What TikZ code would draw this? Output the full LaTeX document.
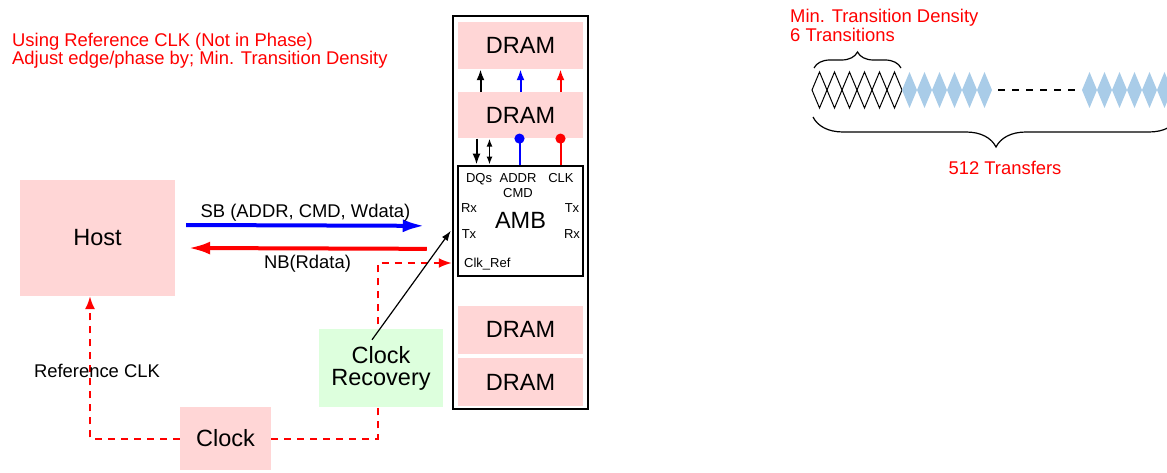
\documentclass[tikz,border=0pt]{standalone}
\usepackage{fontspec}
\setmainfont{Liberation Sans}
\usetikzlibrary{arrows.meta,calc,positioning,decorations.pathreplacing}
\definecolor{boxpink}{RGB}{255,214,214}
\definecolor{boxgreen}{RGB}{221,255,221}
\definecolor{bitblue}{RGB}{169,204,232}

\begin{document}
\begin{tikzpicture}[x=1pt,y=-1pt,
	pinknode/.style={rectangle, fill=boxpink, inner sep=0pt, align=center, font=\fontsize{23.5}{22}\selectfont},
	greennode/.style={rectangle, fill=boxgreen, inner sep=0pt, align=center, font=\fontsize{23.5}{22}\selectfont},
	ambnode/.style={rectangle, draw=black, line width=2.5pt, fill=white, inner sep=0pt, font=\fontsize{23.5}{22}\selectfont},
	smalltext/.style={inner sep=0pt, font=\fontsize{13}{14}\selectfont},
	labeltext/.style={inner sep=0pt, font=\fontsize{18.4}{18.4}\selectfont},
	redtext/.style={labeltext, text=red},
	clkline/.style={red, line width=2pt, dash pattern=on 7pt off 6pt, -{Latex[length=13pt,width=10pt]}},
	busarrow/.style={line width=4pt, -{Latex[length=22pt,width=13pt]}},
	pinarrow/.style={line width=2pt, -{Latex[length=11pt,width=8pt]}},
	node distance=23pt
	]
	\useasboundingbox (0,0) rectangle (1167,473);
	%Notes
	\node[redtext, anchor=base west](NoteA) at (12,47) {Using Reference CLK (Not in Phase)};
	\node[redtext, anchor=base west](NoteB) at (12,65) {Adjust edge/phase by; Min. Transition Density};
	%Nodes
	\node[draw=black, line width=2.5pt, minimum width=135pt, minimum height=393pt](Module) at (520.5,212.5) {};
	\node[pinknode, minimum width=125pt, minimum height=47pt](DramA) at (520.5,45.5) {DRAM};
	\node[pinknode, minimum width=125pt, minimum height=46pt](DramB)[below=of DramA] {DRAM};
	\node[ambnode, minimum width=125pt, minimum height=110pt](AMB)[below=26pt of DramB] {AMB};
	\node[pinknode, minimum width=125pt, minimum height=48pt](DramC)[below=28.5pt of AMB] {DRAM};
	\node[pinknode, minimum width=125pt, minimum height=48pt](DramD)[below=4pt of DramC] {DRAM};
	\node[pinknode, minimum width=155pt, minimum height=116pt](Host) at (97.5,238) {Host};
	\node[pinknode, minimum width=91pt, minimum height=63pt](Clock) at (225.5,438.5) {Clock};
	\coordinate (Tap) at (378,263);
	% AMB pins
	\node[smalltext, anchor=base](DQs) at (479,183) {DQs};
	\node[smalltext, anchor=base](Addr) at (518,183) {ADDR};
	\node[smalltext, anchor=base](Cmd) at (518,197) {CMD};
	\node[smalltext, anchor=base](Clk) at (561,183) {CLK};
	\node[smalltext, anchor=base](RxL) at (469,212) {Rx};
	\node[smalltext, anchor=base](TxL) at (469,238) {Tx};
	\node[smalltext, anchor=base](TxR) at (572,212) {Tx};
	\node[smalltext, anchor=base](RxR) at (572,238) {Rx};
	\node[smalltext, anchor=base west](ClkRef) at (464,267) {Clk\_Ref};
	%Lines
	\foreach \dx/\col in {-40/black,0/blue,40/red}
		\draw[pinarrow, \col] ([xshift=\dx pt]DramB.north) -- ([xshift=\dx pt]DramA.south);
	\draw[pinarrow] ([xshift=-44pt]DramB.south) -- ([xshift=-44pt]AMB.north);
	\draw[line width=1.8pt, {Latex[length=8pt,width=6pt]}-{Latex[length=8pt,width=6pt]}] ([xshift=-31pt]DramB.south) -- ([xshift=-31pt]AMB.north);
	\draw[blue, line width=2pt, {Circle[length=10pt]}-, shorten <=-5pt] ([xshift=-1pt]DramB.south) -- ([xshift=-1pt]AMB.north);
	\draw[red, line width=2pt, {Circle[length=10pt]}-, shorten <=-5pt] ([xshift=40pt]DramB.south) -- ([xshift=40pt]AMB.north);
	\draw[busarrow, blue] ($(Host.east)+(11,-13)$) -- ($(AMB.west)+(-32,5)$)
		node[midway, anchor=base, yshift=8pt, labeltext, text=black](SB){SB (ADDR, CMD, Wdata)};
	\draw[busarrow, red] ($(AMB.west)+(-30,28)$) -- ($(Host.east)+(13,10)$)
		node[midway, anchor=base, yshift=-20pt, labeltext, text=black](NB){NB(Rdata)};
	\draw[clkline] (Clock.west) -| ($(Host.south)+(-7.5,0)$);
	\draw[clkline] (Clock.east) -| (Tap) -- (Tap -| Module.west);
	\node[labeltext, anchor=base](RefClk) at (97,377) {Reference CLK};
	\node[greennode, minimum width=124pt, minimum height=78pt](ClockRecovery) at (381,368) {Clock\\Recovery};
	\draw[line width=1.2pt, -{Latex[length=10pt,width=7pt]}] ($(ClockRecovery.north)+(-9,11)$) -- ($(AMB.west)+(-6,10)$);
	% Transfer pattern
	\node[redtext, anchor=base west](MinDensity) at (790,23) {Min. Transition Density};
	\node[redtext, anchor=base west](SixTrans) at (790,42) {6 Transitions};
	\foreach \i in {0,...,5}
		\draw[line width=1pt] ({812+15*\i},90) -- ++(7.5,-18) -- ++(7.5,18) -- ++(-7.5,18) -- cycle;
	\foreach \i in {0,...,5}
		\fill[bitblue] ({902+15*\i},90) -- ++(7.5,-18) -- ++(7.5,18) -- ++(-7.5,18) -- cycle;
	\foreach \i in {0,...,5}
		\fill[bitblue] ({1082+15*\i},90) -- ++(7.5,-18) -- ++(7.5,18) -- ++(-7.5,18) -- cycle;
	\draw[line width=2pt, dash pattern=on 7pt off 7pt] (998,90) -- (1075,90);
	\draw[line width=1.2pt, decorate, decoration={brace, amplitude=16pt}] (814,68) -- (901,68);
	\draw[line width=1.2pt, decorate, decoration={brace, amplitude=30pt}] (1179,117) -- (813,117);
	\node[redtext, anchor=base](Transfers) at (1005,175) {512 Transfers};
\end{tikzpicture}
\end{document}
